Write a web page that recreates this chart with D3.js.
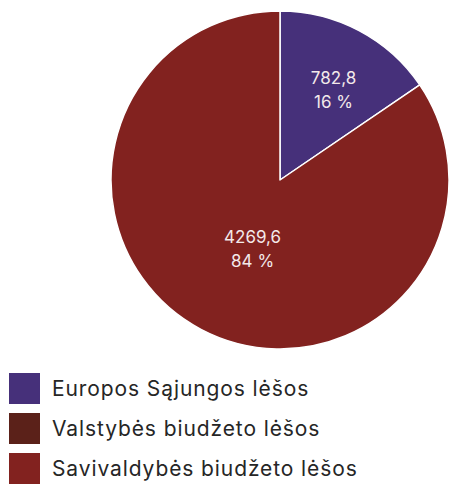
<!DOCTYPE html>
<html>
<head>
<meta charset="utf-8">
<script src="https://cdn.jsdelivr.net/npm/d3@7"></script>
<style>
  body { margin: 0; background: #fff; }
  svg { display: block; font-family: Inter, "DejaVu Sans", sans-serif; }
</style>
</head>
<body>
<div id="chart"></div>
<script>
// Data
const categories = ['Europos Sąjungos lėšos', 'Valstybės biudžeto lėšos', 'Savivaldybės biudžeto lėšos']
const values = [782.8, 0, 4269.6]
const percentLabels = ['16 %', '0 %', '84 %']
const colors = ['#46307a', '#5b2119', '#82221f']

const dataset = categories.map((c, i) => ({ name: c, value: values[i], pct: percentLabels[i], color: colors[i] }))

// Dimensions
const dimensions = { width: 450, height: 484, cx: 280, cy: 180, radius: 169 }

const svg = d3.select('#chart')
  .append('svg')
  .attr('width', dimensions.width)
  .attr('height', dimensions.height)

const ctr = svg.append('g')
  .attr('transform', `translate(${dimensions.cx}, ${dimensions.cy})`)

const pie = d3.pie()
  .value(d => d.value)
  .sort(null)

const arc = d3.arc()
  .innerRadius(0)
  .outerRadius(dimensions.radius)

const arcs = pie(dataset).filter(d => d.data.value > 0)

ctr.selectAll('path')
  .data(arcs)
  .join('path')
  .attr('d', arc)
  .attr('fill', d => d.data.color)
  .attr('stroke', '#fff')
  .attr('stroke-width', 1.5)
  .attr('stroke-linejoin', 'round')

// Labels: small slices sit further out
const labelPos = d => {
  const share = (d.endAngle - d.startAngle) / (2 * Math.PI)
  const big = share >= 0.5
  const r = dimensions.radius * (big ? 0.43 : 0.63)
  const a = (d.startAngle + d.endAngle) / 2 + (big ? -0.1 : 0.04)
  return [Math.sin(a) * r, -Math.cos(a) * r]
}

const fmt = v => d3.format('.1f')(v).replace('.', ',')

const labels = ctr.selectAll('text.lbl')
  .data(arcs)
  .join('text')
  .classed('lbl', true)
  .attr('transform', d => `translate(${labelPos(d)})`)
  .attr('text-anchor', 'middle')
  .attr('fill', '#f3e9ea')
  .style('font-size', '17px')

labels.append('tspan')
  .attr('x', 0)
  .attr('y', -4)
  .text(d => fmt(d.data.value))

labels.append('tspan')
  .attr('x', 0)
  .attr('y', 20)
  .text(d => d.data.pct)

// Legend
const legend = svg.append('g')
  .attr('transform', 'translate(9, 373)')

const item = legend.selectAll('g')
  .data(dataset)
  .join('g')
  .attr('transform', (_, i) => `translate(0, ${i * 40})`)

item.append('rect')
  .attr('width', 31)
  .attr('height', 31)
  .attr('fill', d => d.color)

item.append('text')
  .attr('x', 43)
  .attr('y', 23)
  .attr('fill', '#262626')
  .style('font-size', '21px')
  .style('letter-spacing', '0.9px')
  .text(d => d.name)
</script>
</body>
</html>
